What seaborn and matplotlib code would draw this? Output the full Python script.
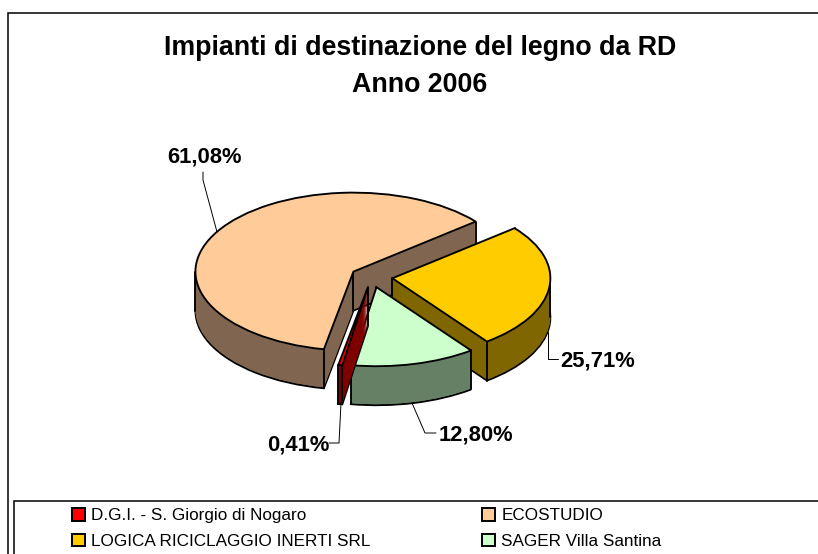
import numpy as np
import matplotlib
matplotlib.use('Agg')
import matplotlib.pyplot as plt
from matplotlib.patches import Patch
import seaborn as sns

# dati
impianti = ['D.G.I. - S. Giorgio di Nogaro', 'ECOSTUDIO', 'LOGICA RICICLAGGIO INERTI SRL', 'SAGER Villa Santina']
quote = [0.41, 61.08, 25.71, 12.80]
colori = ['#FF0000', '#FFCC99', '#FFCC00', '#CCFFCC']
colori_lato = ['#800000', '#806650', '#806600', '#668066']
ordine = [1, 2, 3, 0]   # dal fondo verso il davanti

sns.set_theme(style='white')
plt.rcParams['font.family'] = ['Liberation Sans', 'DejaVu Sans']

W, H = 818, 554
cx, cy, rx, ry = 371.5, 277, 158, 79
spessore = 39
esplosione = 0.133
partenza = 260.7
bordo = 1.35

fig = plt.figure(figsize=(W / 100, H / 100), dpi=100, facecolor='white')

# -------------------- torta "3D" --------------------
ax = fig.add_axes([0, 0, 1, 1])
explode = [esplosione] * len(quote)
for k in range(spessore, 0, -1):
    dz = k / ry
    primo = k == spessore
    wedges, _ = ax.pie(quote, explode=explode, colors=colori_lato, startangle=partenza,
                       counterclock=False, radius=1, center=(0, -dz),
                       wedgeprops={'linewidth': bordo if primo else 0,
                                   'edgecolor': 'black' if primo else 'none'})
    for i, w in enumerate(wedges):
        w.set_zorder(10 * (ordine.index(i) + 1) + (spessore - k) / (spessore + 1))

top, _ = ax.pie(quote, explode=explode, colors=colori, startangle=partenza,
                counterclock=False, radius=1, center=(0, 0),
                wedgeprops={'linewidth': bordo, 'edgecolor': 'black'})
for i, w in enumerate(top):
    z = 10 * (ordine.index(i) + 1)
    w.set_zorder(z + 2)
    # spigoli verticali: centro, estremi dello spicchio e tangenti
    x0, y0 = w.center
    px = [x0]
    py = [y0]
    angoli = [w.theta1, w.theta2]
    angoli += [a for a in (-360, -180, 0, 180, 360) if w.theta1 < a < w.theta2]
    for a in angoli:
        px.append(x0 + np.cos(np.radians(a)))
        py.append(y0 + np.sin(np.radians(a)))
    for x, y in zip(px, py):
        ax.plot([x, x], [y, y - spessore / ry], color='black', lw=bordo, zorder=z + 1,
                solid_capstyle='round')

ax.set_aspect('auto')
ax.set_xlim((0 - cx) / rx, (W - cx) / rx)
ax.set_ylim((cy - H) / ry, (cy - 0) / ry)
ax.axis('off')

# -------------------- cornici, testi, legenda (in pixel) --------------------
ov = fig.add_axes([0, 0, 1, 1], facecolor='none')
ov.set_xlim(0, W)
ov.set_ylim(H, 0)
ov.axis('off')

ov.plot([8, 8, W], [H, 13, 13], color='black', lw=1.1, solid_joinstyle='miter')
ov.fill([14, W, W, 14], [501, 501, H, H], facecolor='white', edgecolor='none', zorder=2)
ov.plot([14, 14, W], [H, 501, 501], color='black', lw=1.1, solid_joinstyle='miter', zorder=3)

ov.text(420, 55, 'Impianti di destinazione del legno da RD', ha='center', va='baseline',
        fontsize=19.3, fontweight='bold', color='black')
ov.text(420, 92, 'Anno 2006', ha='center', va='baseline',
        fontsize=19.3, fontweight='bold', color='black')


def fmt(v):
    return f'{v:.2f}%'.replace('.', ',')


etichette = {1: (205, 162), 2: (598, 366), 3: (475.5, 440), 0: (298.5, 451)}
for i, (x, y) in etichette.items():
    ov.text(x, y, fmt(quote[i]), ha='center', va='baseline', fontsize=15.8,
            fontweight='bold', color='black')

guide = [([203, 203, 217], [172, 180, 232]),
         ([548, 548, 558], [332, 359, 359]),
         ([412, 425, 436], [403, 433, 433]),
         ([341, 339, 329], [403, 443, 443])]
for gx, gy in guide:
    ov.plot(gx, gy, color='black', lw=0.7)

ordine_leg = [0, 2, 1, 3]
handles = [Patch(facecolor=colori[i], edgecolor='black', linewidth=1.4) for i in ordine_leg]
labels = [impianti[i] for i in ordine_leg]
leg = ov.legend(handles, labels, ncol=2, frameon=False, fontsize=12.3,
                loc='upper left', bbox_to_anchor=(72 / W, 1 - 508 / H),
                handlelength=0.76, handleheight=0.76, handletextpad=0.35,
                columnspacing=6.55, labelspacing=0.6, borderpad=0, borderaxespad=0,
                labelcolor='black')
leg.set_zorder(5)

fig.savefig('out.png', dpi=100)
